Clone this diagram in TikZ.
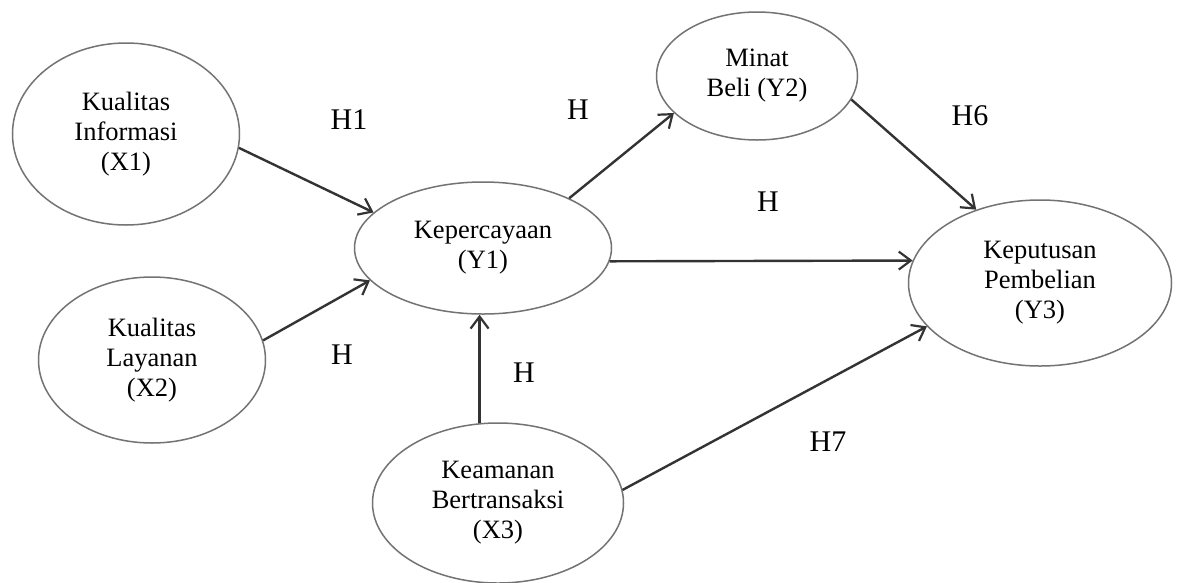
\documentclass[tikz,border=0pt]{standalone}
\usepackage{fontspec}
\setmainfont{Liberation Serif}
\usetikzlibrary{arrows.meta,shapes.geometric}
\begin{document}
\begin{tikzpicture}[x=1pt,y=-1pt,
  ell/.style={ellipse, draw=black!55, line width=1.5pt, inner sep=0pt, align=center,
    font=\fontsize{26.5}{30}\selectfont},
  link/.style={draw=black!80, line width=2.4pt,
    -{Straight Barb[length=12pt,width=18pt,line width=2.2pt]}},
  hlab/.style={font=\fontsize{30}{32}\selectfont, inner sep=0pt}]
\useasboundingbox (0,0) rectangle (1177,582);
\fill[white] (0,0) rectangle (1177,582);
% nodes
\node[ell, minimum width=227pt, minimum height=182pt] (x1) at (126,134) {Kualitas\\Informasi\\(X1)};
\node[ell, minimum width=227pt, minimum height=166pt] (x2) at (152,360) {Kualitas\\Layanan\\(X2)};
\node[ell, minimum width=257pt, minimum height=132pt] (y1) at (483,248) {Kepercayaan\\(Y1)};
\node[ell, minimum width=201pt, minimum height=128pt] (y2) at (757,76) {Minat\\Beli (Y2)};
\node[ell, minimum width=263pt, minimum height=166pt] (y3) at (1040,283) {Keputusan\\Pembelian\\(Y3)};
\node[ell, minimum width=251pt, minimum height=160pt] (x3) at (498,503) {Keamanan\\Bertransaksi\\(X3)};
% connectors
\draw[link] (x1.-7) -- (y1.162.6);
\draw[link] (x2.10) -- (y1.196.5);
\draw[link] (x3.103.4) -- (x3.103.4 |- y1.south);
\draw[link] (y1.30) -- (y2.204);
\draw[link] (y2.-14.8) -- (y3.131);
\draw[link] (y1.-6) -- (y3.170);
\draw[link] (x3.6) -- (y3.201.4);
% labels
\node[hlab] (h1) at (349,120) {H1};
\node[hlab] (h2) at (342,355) {H};
\node[hlab] (h3) at (524,373) {H};
\node[hlab] (h4) at (578,110) {H};
\node[hlab] (h6) at (970,116) {H6};
\node[hlab] (h5) at (768,202) {H};
\node[hlab] (h7) at (828,442) {H7};
\end{tikzpicture}
\end{document}
